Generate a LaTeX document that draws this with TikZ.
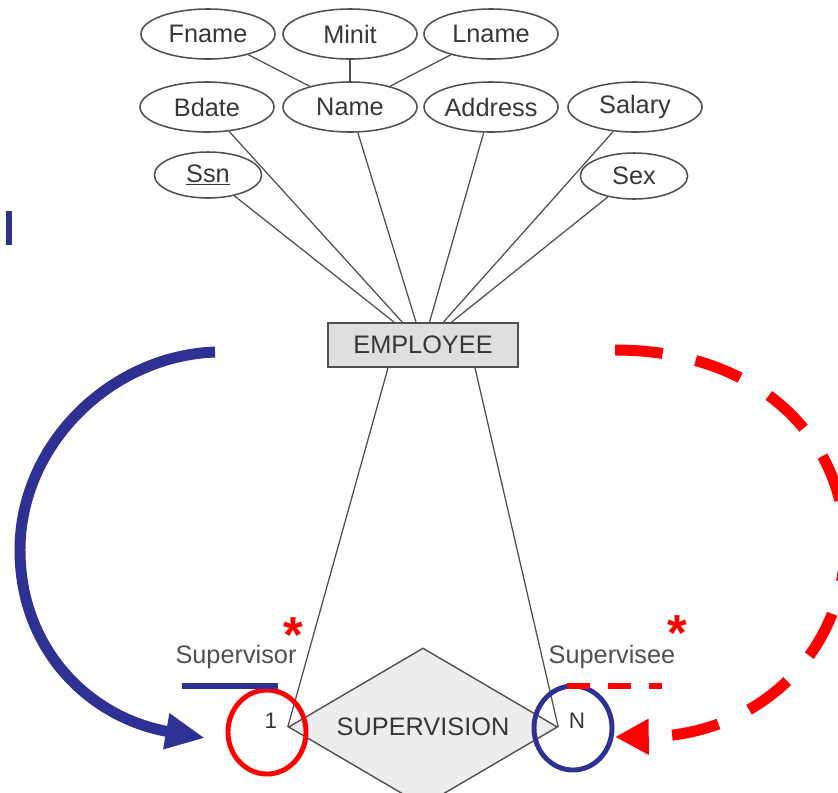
\documentclass[tikz,border=0pt]{standalone}
\usepackage{fontspec}
\setmainfont{Liberation Sans}
\usetikzlibrary{arrows.meta}
\usetikzlibrary{calc}
\usetikzlibrary{positioning}
\usetikzlibrary{shapes.geometric}
\definecolor{navy}{RGB}{46,49,146}
\definecolor{ink}{RGB}{55,55,55}
\definecolor{rim}{RGB}{80,80,80}
\tikzset{attr/.style = {ellipse, draw=rim, line width=1.1pt, inner sep=0pt,
                        minimum width=3.35cm, minimum height=1.25cm,
                        font=\fontsize{18}{20}\selectfont, text=ink},
         smallattr/.style = {attr, minimum width=2.68cm, minimum height=1.15cm},
         entity/.style = {rectangle, draw=rim, fill=gray!25, line width=1.3pt,
                          minimum width=4.75cm, minimum height=1.1cm,
                          font=\fontsize{18}{20}\selectfont, text=ink},
         relation/.style = {diamond, aspect=1.7, draw=rim, fill=gray!14, line width=1pt,
                            inner sep=0pt, minimum width=6.725cm, minimum height=3.95cm,
                            font=\fontsize{18}{20}\selectfont, text=ink},
         role/.style = {font=\fontsize{18}{20}\selectfont, text=rim},
         card/.style = {font=\fontsize{16}{18}\selectfont, text=ink},
         star/.style = {font=\fontsize{36}{36}\selectfont\bfseries, text=red, inner sep=0pt, anchor=north},
         ring/.style = {ellipse, line width=3.5pt, inner sep=0pt, minimum width=1.95cm, minimum height=2.1cm},
         link/.style = {draw=rim, line width=0.9pt},
         bigtip/.style = {-{Triangle[length=#1, width=24pt]}}}

\begin{document}
\begin{tikzpicture}[x=0.025cm, y=-0.025cm]
    \useasboundingbox (0, 0) rectangle (838, 792);
    \clip (0, 0) rectangle (838, 792);
    % attributes
    \node [attr] (fname) at (208, 34) {Fname};
    \node [attr] (minit) at (350, 34) {Minit};
    \node [attr] (lname) at (491, 34) {Lname};
    \node [attr] (bdate) at (207, 107) {Bdate};
    \node [attr] (name) at (350, 107) {Name};
    \node [attr] (address) at (491, 107) {Address};
    \node [attr] (salary) at (635, 107) {Salary};
    \node [smallattr] (ssn) at (208, 175) {\underline{Ssn}};
    \node [smallattr] (sex) at (634, 176) {Sex};
    % entity and relationship
    \node [entity] (emp) at (423, 345) {EMPLOYEE};
    \node [relation] (sup) at (423, 727) {SUPERVISION};
    \draw [link] (fname) -- (name);
    \draw [link] (minit) -- (name);
    \draw [link] (lname) -- (name);
    \draw [link] (bdate) -- (emp);
    \draw [link] (name) -- (emp);
    \draw [link] (address) -- (emp);
    \draw [link] (salary) -- (emp);
    \draw [link] (ssn) -- (emp);
    \draw [link] (sex) -- (emp);
    \draw [link] ($(emp.south)+(-35, 0)$) -- (sup.west);
    \draw [link] ($(emp.south)+(52, 0)$) -- (sup.east);
    % roles
    \node [role] (supervisor) at (236, 657) {Supervisor};
    \node [role] (supervisee) at (612, 657) {Supervisee};
    \node [card] (one) at (271, 721) {1};
    \node [card] (many) at (577, 721) {N};
    \node [star] (star1) at (293, 617) {*};
    \node [star] (star2) at (677, 615) {*};
    \node [ring, draw=red] (ring1) at (267, 732) {};
    \node [ring, draw=navy] (ring2) at (573, 728) {};
    \draw [navy, line width=4.3pt] (182, 686) -- (278, 686);
    \draw [red, line width=4.3pt, dash pattern=on 16.4pt off 12.8pt] (567, 686) -- (662, 686);
    % recursive arrows
    \coordinate (bstart) at (215, 352);
    \coordinate (bend) at (205, 738);
    \coordinate (rstart) at (615, 350);
    \coordinate (rend) at (615, 737);
    \draw [navy, line width=7.8pt, bigtip=28pt] (bstart) .. controls (110, 356) and (20, 445) .. (20, 550)
          .. controls (20, 650) and (90, 718) .. (bend);
    \draw [red, line width=7.8pt, dash pattern=on 34pt off 24pt, bigtip=24pt] (rstart) .. controls (760, 350) and (845, 440) .. (845, 545)
          .. controls (845, 650) and (760, 736) .. (rend);
    \fill [navy] (6, 211) rectangle (12, 245);
\end{tikzpicture}
\end{document}
